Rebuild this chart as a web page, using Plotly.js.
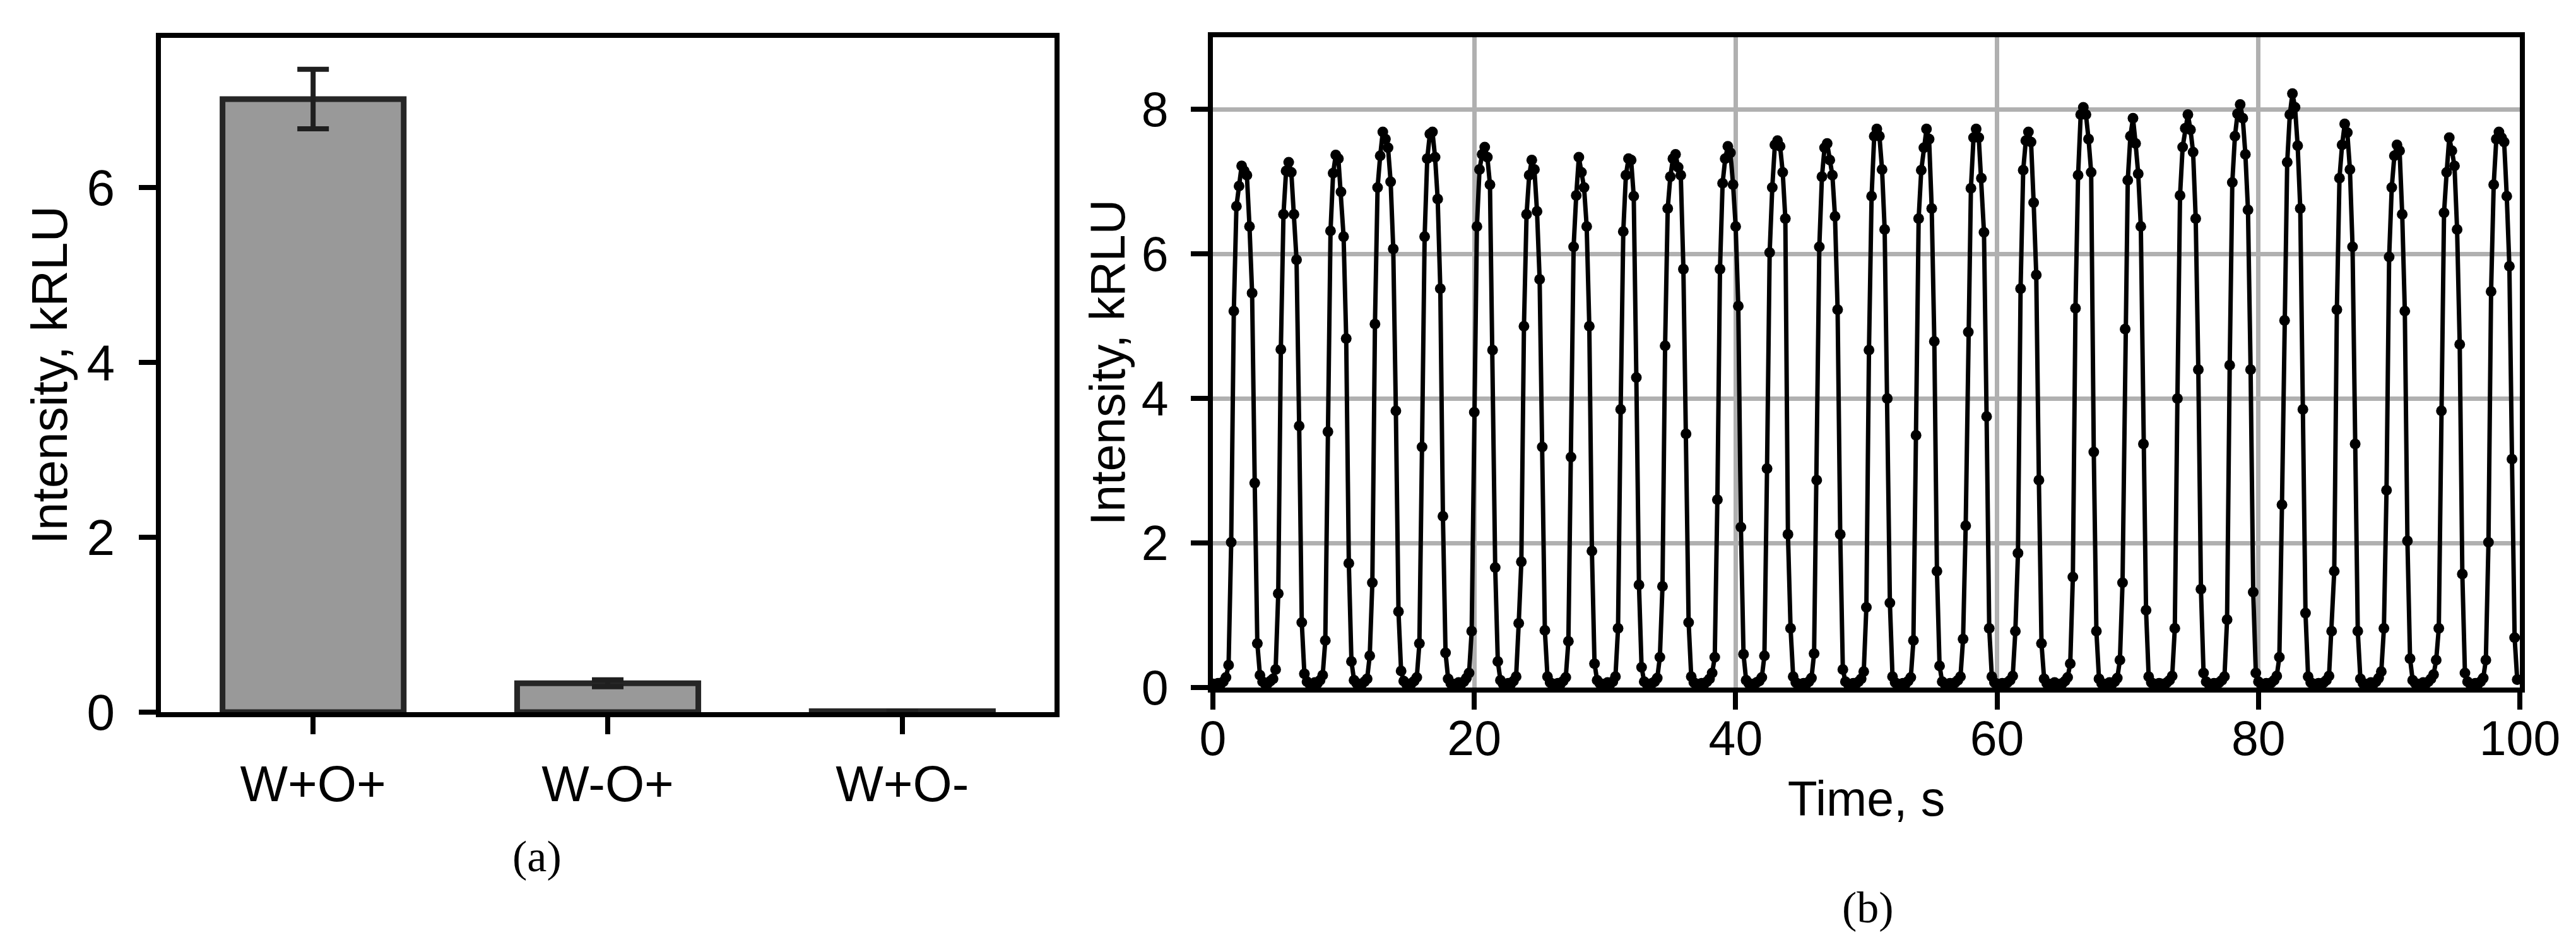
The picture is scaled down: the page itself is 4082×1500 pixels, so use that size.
<!DOCTYPE html>
<html>
<head>
<meta charset="utf-8">
<script src="https://cdn.plot.ly/plotly-3.0.1.min.js"></script>
<style>
  html, body { margin: 0; padding: 0; background: #ffffff; }
  #chart { width: 4082px; height: 1500px; }
</style>
</head>
<body>
<div id="chart"></div>
<script>
// ---------- Panel (a): bar chart ----------
const barCategories = ["W+O+", "W-O+", "W+O-"];
const barValues = [7.01, 0.33, 0.01];
const barErrors = [0.34, 0.04, 0.0];

// ---------- Panel (b): luminescence time series ----------
const sampleInterval = 0.2; // seconds between readings
const intensity = [
  0.05, 0.04, 0.06, 0.05, 0.08, 0.14, 0.31, 2.01, 5.21, 6.66, 6.94, 7.22,
  7.15, 7.09, 6.38, 5.46, 2.83, 0.61, 0.17,
  0.08, 0.05, 0.06, 0.09, 0.12, 0.25, 1.30, 4.68, 6.55, 7.15, 7.27,
  7.13, 6.55, 5.92, 3.62, 0.90, 0.19,
  0.08, 0.05, 0.04, 0.07, 0.06, 0.10, 0.17, 0.65, 3.54, 6.32, 7.12, 7.37,
  7.32, 6.86, 6.24, 4.83, 1.72, 0.36, 0.10,
  0.06, 0.04, 0.05, 0.08, 0.12, 0.44, 1.45, 5.03, 6.92, 7.36, 7.69,
  7.59, 7.47, 7.00, 6.07, 3.83, 1.05, 0.23,
  0.09, 0.05, 0.04, 0.06, 0.09, 0.14, 0.61, 3.33, 6.24, 7.32, 7.66, 7.69,
  7.34, 6.76, 5.52, 2.37, 0.48, 0.12,
  0.06, 0.04, 0.05, 0.07, 0.05, 0.08, 0.13, 0.20, 0.78, 3.81, 6.38, 7.17, 7.38, 7.48,
  7.34, 6.96, 4.67, 1.66, 0.36, 0.10,
  0.05, 0.04, 0.06, 0.05, 0.09, 0.15, 0.89, 1.74, 5.00, 6.55, 7.09, 7.30,
  7.17, 6.59, 5.65, 3.33, 0.79, 0.15,
  0.07, 0.05, 0.04, 0.06, 0.05, 0.09, 0.14, 0.64, 3.19, 6.10, 6.81, 7.34,
  7.13, 6.92, 6.38, 5.00, 1.89, 0.33, 0.10,
  0.06, 0.04, 0.05, 0.07, 0.05, 0.08, 0.15, 0.82, 3.85, 6.31, 7.09, 7.32,
  7.30, 6.80, 4.29, 1.42, 0.28, 0.08,
  0.05, 0.04, 0.06, 0.08, 0.13, 0.42, 1.40, 4.73, 6.63, 7.07, 7.32, 7.38,
  7.20, 7.09, 5.79, 3.51, 0.90, 0.15,
  0.07, 0.05, 0.04, 0.06, 0.05, 0.08, 0.12, 0.20, 0.42, 2.60, 5.79, 6.98, 7.32, 7.49,
  7.40, 6.96, 6.38, 5.28, 2.22, 0.46, 0.10,
  0.06, 0.04, 0.05, 0.07, 0.09, 0.14, 0.44, 3.03, 6.02, 6.92, 7.51, 7.57,
  7.49, 7.13, 6.49, 2.12, 0.82, 0.15,
  0.07, 0.05, 0.04, 0.06, 0.05, 0.08, 0.13, 0.47, 2.87, 6.10, 7.07, 7.47, 7.53,
  7.30, 7.09, 6.52, 5.23, 2.12, 0.25, 0.08,
  0.05, 0.04, 0.06, 0.05, 0.08, 0.12, 0.22, 1.11, 4.67, 6.80, 7.63, 7.73,
  7.63, 7.17, 6.34, 4.00, 1.17, 0.15,
  0.07, 0.05, 0.04, 0.06, 0.05, 0.09, 0.14, 0.65, 3.49, 6.49, 7.16, 7.47, 7.73,
  7.59, 6.63, 4.79, 1.61, 0.30, 0.08,
  0.05, 0.04, 0.06, 0.05, 0.07, 0.10, 0.15, 0.67, 2.24, 4.92, 6.91, 7.61, 7.73,
  7.61, 7.05, 6.30, 3.75, 0.82, 0.15,
  0.07, 0.05, 0.04, 0.06, 0.05, 0.07, 0.10, 0.16, 0.78, 1.86, 5.52, 7.16, 7.57, 7.69,
  7.55, 6.71, 5.71, 2.87, 0.61, 0.12,
  0.06, 0.04, 0.05, 0.07, 0.05, 0.04, 0.06, 0.09, 0.14, 0.33, 1.53, 5.25, 7.09, 7.93, 8.03,
  7.93, 7.59, 7.13, 3.26, 0.78, 0.12,
  0.06, 0.04, 0.05, 0.07, 0.05, 0.08, 0.13, 0.38, 1.45, 4.96, 7.02, 7.63, 7.88,
  7.53, 7.11, 6.38, 3.37, 1.07, 0.15,
  0.07, 0.05, 0.04, 0.06, 0.05, 0.04, 0.07, 0.10, 0.16, 0.82, 4.00, 6.81, 7.48, 7.74, 7.93,
  7.72, 7.41, 6.49, 4.40, 1.36, 0.20,
  0.08, 0.05, 0.04, 0.06, 0.05, 0.07, 0.10, 0.15, 0.94, 4.46, 6.99, 7.63, 7.94, 8.07,
  7.88, 7.38, 6.61, 4.40, 1.32, 0.20,
  0.08, 0.05, 0.04, 0.06, 0.05, 0.07, 0.10, 0.16, 0.42, 2.53, 5.08, 7.27, 7.93, 8.22,
  8.03, 7.50, 6.63, 3.85, 1.03, 0.15,
  0.07, 0.05, 0.04, 0.06, 0.05, 0.07, 0.10, 0.16, 0.78, 1.61, 5.23, 7.05, 7.51, 7.80,
  7.68, 7.17, 6.10, 3.37, 0.78, 0.12,
  0.06, 0.04, 0.05, 0.07, 0.05, 0.08, 0.13, 0.22, 0.82, 2.73, 5.96, 6.92, 7.36, 7.51,
  7.43, 6.55, 5.21, 2.03, 0.40, 0.10,
  0.06, 0.04, 0.05, 0.07, 0.05, 0.08, 0.12, 0.18, 0.38, 0.82, 3.83, 6.57, 7.13, 7.61,
  7.43, 7.22, 6.34, 4.75, 1.57, 0.20,
  0.08, 0.05, 0.04, 0.06, 0.05, 0.08, 0.13, 0.38, 2.01, 5.48, 6.96, 7.59, 7.69,
  7.61, 7.55, 6.80, 5.83, 3.16, 0.69, 0.11
];
const timeSeconds = intensity.map((_, i) => +(i * sampleInterval).toFixed(2));

const xTicksB = [0, 20, 40, 60, 80, 100];
const yTicksA = [0, 2, 4, 6];
const yTicksB = [0, 2, 4, 6, 8];

// ---------- figure ----------
const W = 4082, H = 1500;
const sansFont = "Liberation Sans, Arial, Helvetica, sans-serif";
const serifFont = "Liberation Serif, Times New Roman, serif";

const fx = px => px / W;
const fy = px => 1 - px / H;

const traces = [
  {
    type: "bar",
    x: barCategories,
    y: barValues,
    width: 0.615,
    marker: { color: "#999999", line: { color: "#262626", width: 9 } },
    error_y: { type: "data", array: barErrors, visible: true, color: "#1f1f1f", thickness: 8, width: 25 },
    xaxis: "x", yaxis: "y",
    hoverinfo: "skip"
  },
  {
    type: "scatter",
    mode: "lines+markers",
    x: timeSeconds,
    y: intensity,
    line: { color: "#000000", width: 7 },
    marker: { color: "#000000", size: 17 },
    xaxis: "x2", yaxis: "y2",
    cliponaxis: true,
    hoverinfo: "skip"
  }
];

const axisCommon = {
  showline: true, linecolor: "#000000", linewidth: 8, mirror: true,
  ticks: "outside", ticklen: 27, tickwidth: 8, tickcolor: "#000000",
  zeroline: false, fixedrange: true
};

const layout = {
  width: W, height: H,
  margin: { l: 0, r: 0, t: 0, b: 0, pad: 0 },
  paper_bgcolor: "#ffffff", plot_bgcolor: "#ffffff",
  showlegend: false,
  font: { family: sansFont, color: "#000000" },
  bargap: 0,
  xaxis: Object.assign({}, axisCommon, {
    domain: [fx(255), fx(1671)],
    type: "category",
    range: [-0.5166, 2.5166],
    showgrid: false,
    tickfont: { size: 80, family: sansFont },
    ticklabelstandoff: 10,
    anchor: "y"
  }),
  yaxis: Object.assign({}, axisCommon, {
    domain: [fy(1128), fy(60)],
    range: [0, 7.71],
    tickvals: yTicksA,
    showgrid: false,
    tickfont: { size: 80, family: sansFont },
    ticklabelstandoff: 22,
    title: { text: "Intensity, kRLU", font: { size: 80, family: sansFont }, standoff: 8 },
    anchor: "x"
  }),
  xaxis2: Object.assign({}, axisCommon, {
    domain: [fx(1922), fx(3993)],
    range: [0, 100],
    tickvals: xTicksB,
    showgrid: true, gridcolor: "#b0b0b0", gridwidth: 7,
    tickfont: { size: 77, family: sansFont },
    ticklabelstandoff: -20,
    title: { text: "Time, s", font: { size: 77, family: sansFont }, standoff: 30 },
    anchor: "y2"
  }),
  yaxis2: Object.assign({}, axisCommon, {
    domain: [fy(1089), fy(59)],
    range: [0, 9],
    tickvals: yTicksB,
    showgrid: true, gridcolor: "#b0b0b0", gridwidth: 7,
    tickfont: { size: 77, family: sansFont },
    ticklabelstandoff: 20,
    title: { text: "Intensity, kRLU", font: { size: 77, family: sansFont }, standoff: 4 },
    anchor: "x2"
  }),
  annotations: [
    { text: "(a)", xref: "paper", yref: "paper", x: fx(851), y: fy(1356),
      xanchor: "center", yanchor: "middle", showarrow: false,
      font: { family: serifFont, size: 70, color: "#000000" } },
    { text: "(b)", xref: "paper", yref: "paper", x: fx(2960), y: fy(1437),
      xanchor: "center", yanchor: "middle", showarrow: false,
      font: { family: serifFont, size: 70, color: "#000000" } }
  ]
};

Plotly.newPlot("chart", traces, layout, { staticPlot: true, displayModeBar: false });
</script>
</body>
</html>
